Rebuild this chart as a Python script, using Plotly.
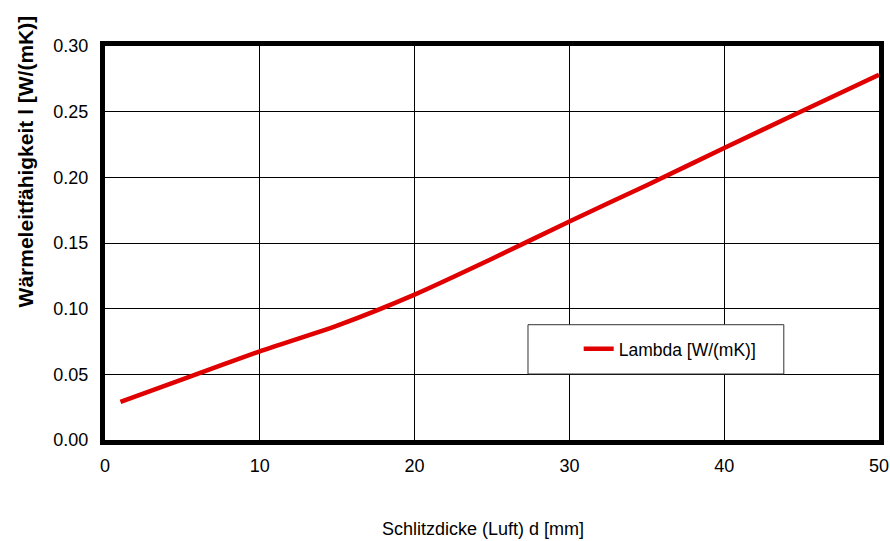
import plotly.graph_objects as go

# Data
thickness_mm = [1, 5, 10, 15, 20, 25, 30, 35, 40, 45, 50]
lambda_vals = [0.029, 0.0461, 0.0675, 0.0871, 0.1107, 0.138, 0.1664, 0.194, 0.2223, 0.2503, 0.2781]
y_ticks = [0.00, 0.05, 0.10, 0.15, 0.20, 0.25, 0.30]
x_ticks = [0, 10, 20, 30, 40, 50]

FONT = "Liberation Sans, Arial, sans-serif"

fig = go.Figure()
fig.add_trace(go.Scatter(
    x=thickness_mm, y=lambda_vals, mode="lines", name="Lambda [W/(mK)]",
    line=dict(color="#E00000", width=4.5, shape="spline", smoothing=0.6),
))

# legend box
fig.add_shape(type="rect", xref="paper", yref="paper",
              x0=0.5465, x1=0.877, y0=0.1675, y1=0.2926,
              fillcolor="white", line=dict(color="#333333", width=1), layer="above")

fig.update_layout(
    width=890, height=541,
    margin=dict(l=105, r=11, t=46, b=101, autoexpand=False),
    paper_bgcolor="white", plot_bgcolor="white",
    font=dict(family=FONT, size=18, color="black"),
    showlegend=True,
    legend=dict(x=0.612, xanchor="left", y=0.231, yanchor="middle",
                bgcolor="rgba(0,0,0,0)", borderwidth=0,
                font=dict(family=FONT, size=17.5, color="black")),
    xaxis=dict(range=[0, 50], tickvals=x_ticks, showgrid=True, gridcolor="black", gridwidth=1,
               showline=True, linecolor="black", linewidth=5, mirror=True, zeroline=False,
               automargin=False,
               ticks="", ticklabelstandoff=5, tickfont=dict(size=18)),
    yaxis=dict(range=[0, 0.30], tickvals=y_ticks, tickformat=".2f", showgrid=True,
               gridcolor="black", gridwidth=1, automargin=False,
               showline=True, linecolor="black", linewidth=5, mirror=True, zeroline=False,
               ticks="", ticklabelstandoff=8, tickfont=dict(size=18)),
    annotations=[
        dict(text="<b>Wärmeleitfähigkeit l [W/(mK)]</b>", xref="paper", yref="paper",
             x=-0.1034, y=0.707, textangle=-90, showarrow=False,
             xanchor="center", yanchor="middle", font=dict(family=FONT, size=21)),
        dict(text="Schlitzdicke (Luft) d [mm]", xref="paper", yref="paper",
             x=0.489, y=-0.226, showarrow=False, xanchor="center", yanchor="middle",
             font=dict(family=FONT, size=18)),
    ],
)

fig.write_html("out.html", config={"displayModeBar": False},
               post_script="document.body.style.margin='0';document.body.style.overflow='hidden';")
